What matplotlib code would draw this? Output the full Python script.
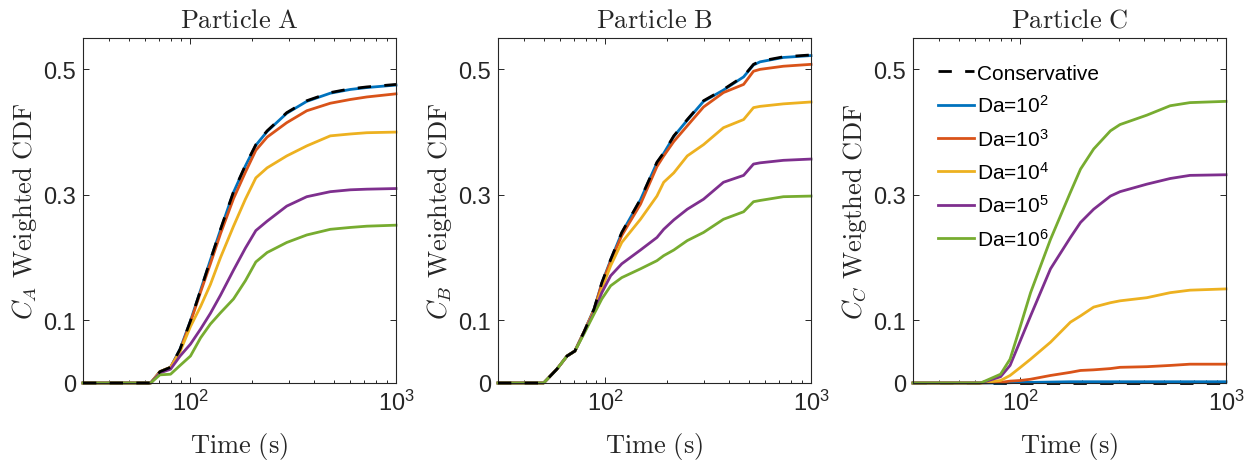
import matplotlib
matplotlib.use("Agg")
import matplotlib.pyplot as plt
from matplotlib.ticker import FixedLocator, LogLocator, NullFormatter

plt.rcParams['font.family'] = ['Liberation Sans', 'DejaVu Sans']
plt.rcParams['mathtext.fontset'] = 'custom'
plt.rcParams['mathtext.rm'] = 'Liberation Sans'
plt.rcParams['mathtext.it'] = 'Liberation Sans:italic'

# ---------------- data ----------------
# Particle A
tA = [30, 64, 71, 80, 89, 100, 112, 125, 140, 162, 185, 208, 236, 294, 368, 479, 600, 721, 1000]
A_cons = [0, 0, 0.018, 0.025, 0.054, 0.099, 0.148, 0.196, 0.245, 0.305, 0.347, 0.380, 0.402, 0.431, 0.450, 0.463, 0.469, 0.472, 0.476]
A_da2  = [0, 0, 0.018, 0.025, 0.054, 0.099, 0.148, 0.196, 0.244, 0.304, 0.346, 0.379, 0.401, 0.430, 0.449, 0.462, 0.468, 0.471, 0.475]
A_da3  = [0, 0, 0.018, 0.025, 0.052, 0.097, 0.145, 0.190, 0.238, 0.294, 0.336, 0.371, 0.392, 0.415, 0.434, 0.446, 0.452, 0.456, 0.461]
A_da4  = [0, 0, 0.018, 0.025, 0.050, 0.090, 0.122, 0.157, 0.200, 0.250, 0.293, 0.327, 0.343, 0.362, 0.378, 0.394, 0.397, 0.399, 0.400]
A_da5  = [0, 0, 0.016, 0.022, 0.043, 0.062, 0.086, 0.111, 0.140, 0.180, 0.215, 0.243, 0.258, 0.282, 0.297, 0.305, 0.308, 0.309, 0.310]
A_da6  = [0, 0, 0.013, 0.014, 0.028, 0.043, 0.072, 0.094, 0.112, 0.134, 0.163, 0.193, 0.208, 0.224, 0.236, 0.245, 0.248, 0.250, 0.2516]

# Particle B
tB = [30, 50, 58, 65, 71, 78.5, 88, 96, 106, 120, 148, 178, 192, 215, 250, 300, 375, 470, 525, 565, 734, 1000]
B_cons = [0, 0, 0.022, 0.043, 0.051, 0.081, 0.118, 0.160, 0.197, 0.240, 0.293, 0.352, 0.367, 0.394, 0.420, 0.450, 0.468, 0.489, 0.508, 0.513, 0.520, 0.523]
B_da2  = [0, 0, 0.022, 0.043, 0.051, 0.081, 0.118, 0.159, 0.196, 0.239, 0.292, 0.351, 0.366, 0.393, 0.419, 0.449, 0.467, 0.488, 0.507, 0.512, 0.519, 0.522]
B_da3  = [0, 0, 0.022, 0.043, 0.051, 0.081, 0.117, 0.158, 0.194, 0.235, 0.285, 0.345, 0.362, 0.385, 0.410, 0.440, 0.463, 0.476, 0.497, 0.500, 0.505, 0.508]
B_da4  = [0, 0, 0.022, 0.043, 0.051, 0.081, 0.115, 0.150, 0.187, 0.224, 0.261, 0.298, 0.320, 0.335, 0.362, 0.380, 0.407, 0.420, 0.439, 0.441, 0.445, 0.448]
B_da5  = [0, 0, 0.022, 0.043, 0.051, 0.080, 0.113, 0.144, 0.171, 0.190, 0.212, 0.232, 0.245, 0.260, 0.277, 0.293, 0.320, 0.331, 0.349, 0.351, 0.355, 0.357]
B_da6  = [0, 0, 0.022, 0.043, 0.051, 0.078, 0.110, 0.134, 0.155, 0.168, 0.182, 0.195, 0.203, 0.212, 0.227, 0.240, 0.261, 0.273, 0.289, 0.291, 0.297, 0.298]

# Particle C
tC = [30, 64, 80, 89, 100, 112, 140, 175, 196, 227, 274, 305, 412, 535, 668, 1000]
C_cons = [0] * len(tC)
C_da2  = [0, 0, 0, 0.0005, 0.001, 0.001, 0.0015, 0.002, 0.002, 0.002, 0.002, 0.002, 0.002, 0.002, 0.002, 0.002]
C_da3  = [0, 0, 0.001, 0.003, 0.004, 0.006, 0.012, 0.017, 0.020, 0.021, 0.023, 0.025, 0.026, 0.028, 0.030, 0.030]
C_da4  = [0, 0, 0.004, 0.012, 0.025, 0.038, 0.065, 0.097, 0.107, 0.121, 0.128, 0.131, 0.136, 0.144, 0.148, 0.150]
C_da5  = [0, 0, 0.010, 0.028, 0.068, 0.107, 0.182, 0.232, 0.256, 0.277, 0.298, 0.305, 0.317, 0.326, 0.331, 0.332]
C_da6  = [0, 0, 0.014, 0.038, 0.091, 0.144, 0.229, 0.304, 0.341, 0.373, 0.402, 0.412, 0.427, 0.442, 0.447, 0.449]

titles = [r"$\mathrm{Particle\ A}$", r"$\mathrm{Particle\ B}$", r"$\mathrm{Particle\ C}$"]
ylabels = [r"$C_A\ \mathrm{Weighted\ CDF}$", r"$C_B\ \mathrm{Weighted\ CDF}$", r"$C_C\ \mathrm{Weigthed\ CDF}$"]
xlabel = r"$\mathrm{Time\ (s)}$"
yticks = [0, 0.1, 0.3, 0.5]
ytick_labels = ["0", "0.1", "0.3", "0.5"]

colors = ["#0072BD", "#D95319", "#EDB120", "#7E2F8E", "#77AC30"]
legend_labels = ["Conservative", r"Da=$\mathdefault{10^{2}}$", r"Da=$\mathdefault{10^{3}}$",
                 r"Da=$\mathdefault{10^{4}}$", r"Da=$\mathdefault{10^{5}}$", r"Da=$\mathdefault{10^{6}}$"]

panels = [
    (tA, A_cons, [A_da2, A_da3, A_da4, A_da5, A_da6], True),
    (tB, B_cons, [B_da2, B_da3, B_da4, B_da5, B_da6], True),
    (tC, C_cons, [C_da2, C_da3, C_da4, C_da5, C_da6], False),
]

fig = plt.figure(figsize=(12.56, 4.64), dpi=100)
lefts = [83, 498, 913]
W, H = 1256, 464
axc = '#262626'
lw = 2.0
for i, (t, cons, das, cons_on_top) in enumerate(panels):
    ax = fig.add_axes([lefts[i] / W, (464 - 384) / H, 313 / W, 345 / H])
    if not cons_on_top:
        h0, = ax.plot(t, cons, color='k', lw=lw, dashes=(4.8, 4.8), clip_on=False, zorder=2)
    hs = []
    for j, d in enumerate(das):
        h, = ax.plot(t, d, color=colors[j], lw=lw, clip_on=False, zorder=2)
        hs.append(h)
    if cons_on_top:
        h0, = ax.plot(t, cons, color='k', lw=lw, dashes=(4.8, 4.8), clip_on=False, zorder=3)
    ax.set_xscale('log')
    ax.set_xlim(30, 1000)
    ax.set_ylim(0, 0.55)
    ax.xaxis.set_major_locator(FixedLocator([100, 1000]))
    ax.xaxis.set_minor_locator(LogLocator(base=10, subs=range(2, 10)))
    ax.xaxis.set_minor_formatter(NullFormatter())
    ax.set_yticks(yticks)
    ax.set_yticklabels(ytick_labels)
    ax.tick_params(which='both', direction='in', top=True, right=True, colors=axc,
                   labelsize=17, width=0.7)
    ax.tick_params(which='major', length=4.5, pad=5)
    ax.tick_params(which='minor', length=2.5)
    for s in ax.spines.values():
        s.set_color(axc)
        s.set_linewidth(0.8)
    ax.set_title(titles[i], fontsize=19, math_fontfamily='cm', color=axc, pad=8)
    ax.set_xlabel(xlabel, fontsize=19, math_fontfamily='cm', color=axc, labelpad=11)
    ax.set_ylabel(ylabels[i], fontsize=19, math_fontfamily='cm', color=axc, labelpad=3)
    if i == 2:
        ax.legend([h0] + hs, legend_labels, loc='upper left', frameon=False, fontsize=15,
                  handlelength=1.75, handletextpad=0.1, labelspacing=0.55,
                  borderaxespad=0.5, bbox_to_anchor=(0.02, 0.98))

fig.savefig("out.png", dpi=100)
